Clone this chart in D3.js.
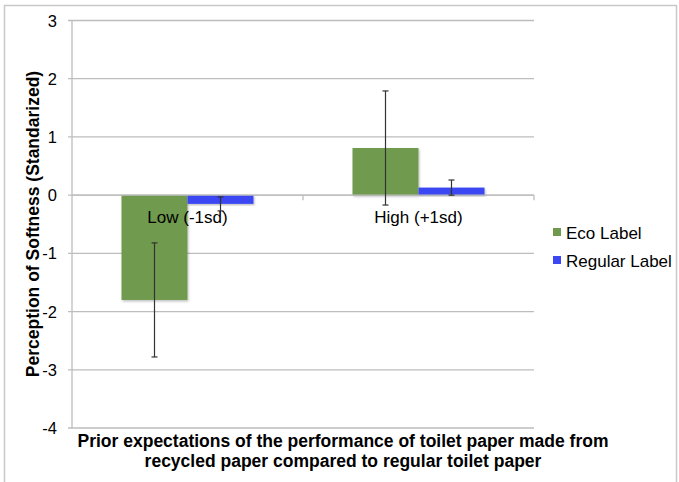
<!DOCTYPE html>
<html>
<head>
<meta charset="UTF-8">
<script src="https://d3js.org/d3.v7.min.js"></script>
<style>
  body { margin: 0; background: #fff; }
  text { font-family: "Liberation Sans", Arial, sans-serif; }
</style>
</head>
<body>
<svg id="chart" width="679" height="482"></svg>
<script>
const categories = ["Low (-1sd)", "High (+1sd)"];
const seriesNames = ["Eco Label", "Regular Label"];
const ecoValues = [-1.80, 0.81];
const ecoErrors = [0.98, 0.98];
const regularValues = [-0.15, 0.13];
const regularErrors = [0.12, 0.13];
const yTicks = [3, 2, 1, 0, -1, -2, -3, -4];
const colors = ["#6f9a4e", "#3a47f2"];

const svg = d3.select("#chart");
const margin = {top: 20.5, left: 72, right: 145, bottom: 54};
const width = 679, height = 482;

// outer frame
svg.append("rect")
    .attr("x", 4.5).attr("y", 5.5)
    .attr("width", 672).attr("height", 490)
    .attr("fill", "none").attr("stroke", "#c8c8c8").attr("stroke-width", 1.5);

const x = d3.scaleBand()
    .domain(categories)
    .range([margin.left, width - margin.right]);

const y = d3.scaleLinear()
    .domain([-4, 3])
    .range([height - margin.bottom, margin.top]);

const inner = d3.scaleBand()
    .domain(seriesNames)
    .range([0, x.bandwidth()])
    .paddingOuter(0.75)
    .paddingInner(0);

// gridlines
svg.append("g")
    .selectAll("line")
    .data(yTicks)
    .join("line")
    .attr("x1", margin.left - 4).attr("x2", width - margin.right)
    .attr("y1", d => y(d)).attr("y2", d => y(d))
    .attr("stroke", "#bdbdbd").attr("stroke-width", 1.3);

// y axis line
svg.append("line")
    .attr("x1", margin.left).attr("x2", margin.left)
    .attr("y1", y(3)).attr("y2", y(-4))
    .attr("stroke", "#bdbdbd").attr("stroke-width", 1.3);

// y tick labels
svg.append("g")
    .selectAll("text")
    .data(yTicks)
    .join("text")
    .attr("x", 57).attr("y", d => y(d) + 6)
    .attr("text-anchor", "end")
    .attr("font-size", 16.5)
    .text(d => d);

const series = [
  {name: seriesNames[0], values: ecoValues, errors: ecoErrors, color: colors[0]},
  {name: seriesNames[1], values: regularValues, errors: regularErrors, color: colors[1]}
];

const defs = svg.append("defs");
const filter = defs.append("filter").attr("id", "shadow").attr("x", "-10%").attr("y", "-10%").attr("width", "130%").attr("height", "130%");
filter.append("feDropShadow").attr("dx", 1).attr("dy", 1.5).attr("stdDeviation", 1).attr("flood-color", "#000").attr("flood-opacity", 0.25);

// bars
series.forEach(s => {
  svg.append("g")
      .selectAll("rect")
      .data(categories)
      .join("rect")
      .attr("x", (c) => x(c) + inner(s.name))
      .attr("width", inner.bandwidth())
      .attr("y", (c, i) => y(Math.max(0, s.values[i])))
      .attr("height", (c, i) => Math.abs(y(s.values[i]) - y(0)))
      .attr("fill", s.color)
      .attr("filter", "url(#shadow)");
});

// category axis at zero
svg.append("line")
    .attr("x1", margin.left).attr("x2", width - margin.right)
    .attr("y1", y(0)).attr("y2", y(0))
    .attr("stroke", "#bdbdbd").attr("stroke-width", 1.3);
svg.append("g")
    .selectAll("line")
    .data([categories[1], null])
    .join("line")
    .attr("x1", d => d ? x(d) : width - margin.right)
    .attr("x2", d => d ? x(d) : width - margin.right)
    .attr("y1", y(0)).attr("y2", y(0) + 5)
    .attr("stroke", "#bdbdbd").attr("stroke-width", 1.3);

// error bars
series.forEach(s => {
  const g = svg.append("g").attr("stroke", "#333").attr("stroke-width", 1.2);
  categories.forEach((c, i) => {
    const cx = x(c) + inner(s.name) + inner.bandwidth() / 2;
    const top = y(s.values[i] + s.errors[i]);
    const bot = y(s.values[i] - s.errors[i]);
    g.append("line").attr("x1", cx).attr("x2", cx).attr("y1", top).attr("y2", bot);
    g.append("line").attr("x1", cx - 3).attr("x2", cx + 3).attr("y1", top).attr("y2", top);
    g.append("line").attr("x1", cx - 3).attr("x2", cx + 3).attr("y1", bot).attr("y2", bot);
  });
});

// category labels
svg.append("g")
    .selectAll("text")
    .data(categories)
    .join("text")
    .attr("x", d => x(d) + x.bandwidth() / 2)
    .attr("y", y(0) + 28)
    .attr("text-anchor", "middle")
    .attr("font-size", 17)
    .text(d => d);

// legend
const legend = svg.append("g");
series.forEach((s, i) => {
  legend.append("rect")
      .attr("x", 553).attr("y", 228 + i * 28)
      .attr("width", 8).attr("height", 8)
      .attr("fill", s.color);
  legend.append("text")
      .attr("x", 566).attr("y", 239 + i * 28)
      .attr("font-size", 17)
      .text(s.name);
});

// axis titles
svg.append("text")
    .attr("transform", `translate(39,224) rotate(-90)`)
    .attr("text-anchor", "middle")
    .attr("font-size", 17.5)
    .attr("font-weight", "bold")
    .text("Perception of Softness (Standarized)");

const xt = svg.append("text")
    .attr("text-anchor", "middle")
    .attr("font-size", 17.5)
    .attr("font-weight", "bold");
xt.append("tspan").attr("x", 343).attr("y", 447)
    .text("Prior expectations of the performance of toilet paper made from");
xt.append("tspan").attr("x", 343).attr("y", 467)
    .text("recycled paper compared to regular toilet paper");
</script>
</body>
</html>
